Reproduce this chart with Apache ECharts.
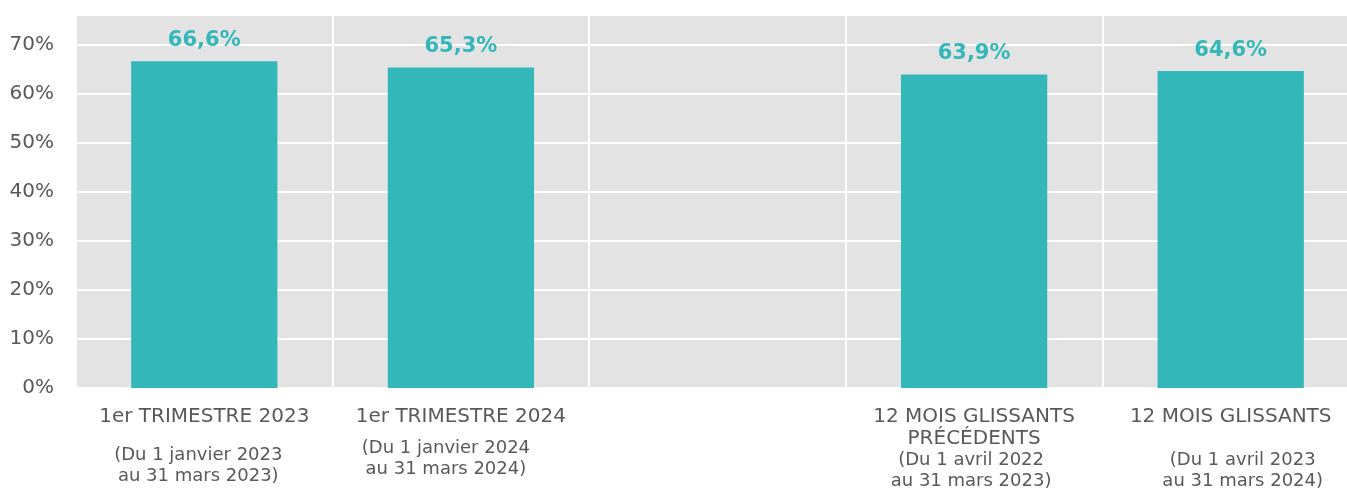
<!DOCTYPE html>
<html>
<head>
<meta charset="utf-8">
<script src="https://cdn.jsdelivr.net/npm/echarts@6/dist/echarts.min.js"></script>
<style>
  html, body { margin: 0; padding: 0; background: #ffffff; }
  #chart { width: 1347px; height: 488px; }
</style>
</head>
<body>
<div id="chart"></div>
<script>
const categories = ['1er TRIMESTRE 2023', '1er TRIMESTRE 2024', '', '12 MOIS GLISSANTS\nPRÉCÉDENTS', '12 MOIS GLISSANTS'];
const periods = [
    '(Du 1 janvier 2023\nau 31 mars 2023)',
    '(Du 1 janvier 2024\nau 31 mars 2024)',
    '',
    '(Du 1 avril 2022\nau 31 mars 2023)',
    '(Du 1 avril 2023\nau 31 mars 2024)'
];
const rates = [66.6, 65.3, null, 63.9, 64.6];
const yTicks = [0, 10, 20, 30, 40, 50, 60, 70];

const teal = '#34b7b9';
const font = '"DejaVu Sans", Verdana, sans-serif';

// spacing between title block and period block, per category
const gaps = [17, 10, 0, 0, 22];
// horizontal nudge of the period lines (px, negative = left)
const nudges = [-6, -15, 0, -3, 12];

const rich = {
    t: { fontSize: 20, lineHeight: 22, color: '#595959', fontFamily: font }
};
gaps.forEach(function (g, i) {
    rich['g' + i] = { fontSize: 1, lineHeight: g };
    const n = nudges[i];
    rich['s' + i] = {
        fontSize: 18, lineHeight: 21, color: '#595959', fontFamily: font,
        padding: n < 0 ? [0, -2 * n, 0, 0] : [0, 0, 0, 2 * n]
    };
});

const myChart = echarts.init(document.getElementById('chart'));
const option = {
    backgroundColor: '#ffffff',
    animation: false,
    grid: {
        show: true,
        backgroundColor: '#e3e3e3',
        borderWidth: 0,
        outerBoundsMode: 'none',
        containLabel: false,
        left: 76,
        top: 15,
        width: 1283,
        bottom: 100
    },
    xAxis: {
        type: 'category',
        data: categories,
        boundaryGap: true,
        axisLine: { show: false },
        axisTick: { show: false },
        splitLine: { show: true, lineStyle: { color: '#ffffff', width: 2 } },
        axisLabel: {
            interval: 0,
            hideOverlap: false,
            margin: 18,
            formatter: function (value, idx) {
                if (!value) return '';
                let s = value.split('\n').map(function (l) { return '{t|' + l + '}'; }).join('\n');
                if (gaps[idx] > 0) s += '\n{g' + idx + '| }';
                s += '\n' + periods[idx].split('\n').map(function (l) { return '{s' + idx + '|' + l + '}'; }).join('\n');
                return s;
            },
            rich: rich
        }
    },
    yAxis: {
        type: 'value',
        min: yTicks[0],
        max: 76,
        interval: yTicks[1] - yTicks[0],
        axisLine: { show: false },
        axisTick: { show: false },
        splitLine: { show: true, lineStyle: { color: '#ffffff', width: 2 } },
        axisLabel: {
            showMaxLabel: false,
            margin: 22,
            fontSize: 20,
            color: '#595959',
            fontFamily: font,
            formatter: '{value}%'
        }
    },
    series: [{
        type: 'bar',
        data: rates,
        barWidth: '57%',
        itemStyle: { color: teal },
        label: {
            show: true,
            position: 'top',
            distance: 10,
            color: teal,
            fontSize: 21,
            fontWeight: 'bold',
            fontFamily: font,
            formatter: function (p) {
                return p.value == null ? '' : p.value.toFixed(1).replace('.', ',') + '%';
            }
        }
    }]
};
myChart.setOption(option);
window.onresize = myChart.resize;
</script>
</body>
</html>
